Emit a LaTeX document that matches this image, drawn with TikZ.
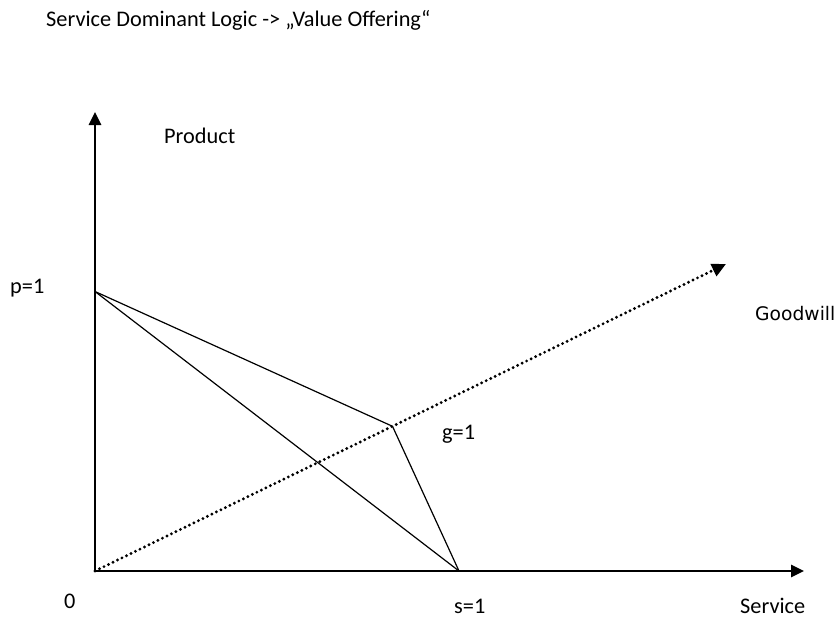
\documentclass[tikz,border=0pt]{standalone}
\usepackage{fontspec}
\setmainfont{Carlito}
\newfontfamily\gwfont{DejaVu Sans}
\usetikzlibrary{arrows.meta}
\begin{document}
\begin{tikzpicture}[x=1pt,y=-1pt,
  axis/.style={line width=2.6pt,-{Triangle[length=13pt,width=12pt]}},
  edge/.style={line width=1.2pt},
  goodaxis/.style={line width=3.2pt,line cap=round,dash pattern=on 0pt off 5pt,-{Triangle[length=14pt,width=13pt]}},
  lbl/.style={inner sep=0pt,anchor=base west,font=\fontsize{22.3}{26}\selectfont}]
\useasboundingbox (0,0) rectangle (837,619);
\coordinate (O) at (95,571);
\coordinate (Ytip) at (95,112);
\coordinate (Xtip) at (804,571);
\coordinate (Dtip) at (726,264);
\coordinate (P) at (95,291.5);
\coordinate (S) at (459,571);
\coordinate (G) at (392.5,426.3);
\draw[goodaxis] (O) -- (Dtip);
\draw[edge] (P) -- (G) -- (S);
\draw[edge] (P) -- (S);
\draw[axis] (O) -- (Ytip);
\draw[axis] (O) -- (Xtip);
\node[lbl] (title) at (46,26) {Service Dominant Logic -> „Value Offering“};
\node[lbl] (product) at (164,143) {Product};
\node[lbl] (p1) at (10,293) {p=1};
\node[inner sep=0pt,anchor=base west,font=\gwfont\fontsize{18.7}{22}\selectfont] (goodwill) at (755,320) {Goodwill};
\node[lbl] (g1) at (442,439) {g=1};
\node[lbl] (zero) at (64,608) {0};
\node[lbl] (s1) at (454,613) {s=1};
\node[lbl] (service) at (740,613) {Service};
\end{tikzpicture}
\end{document}
